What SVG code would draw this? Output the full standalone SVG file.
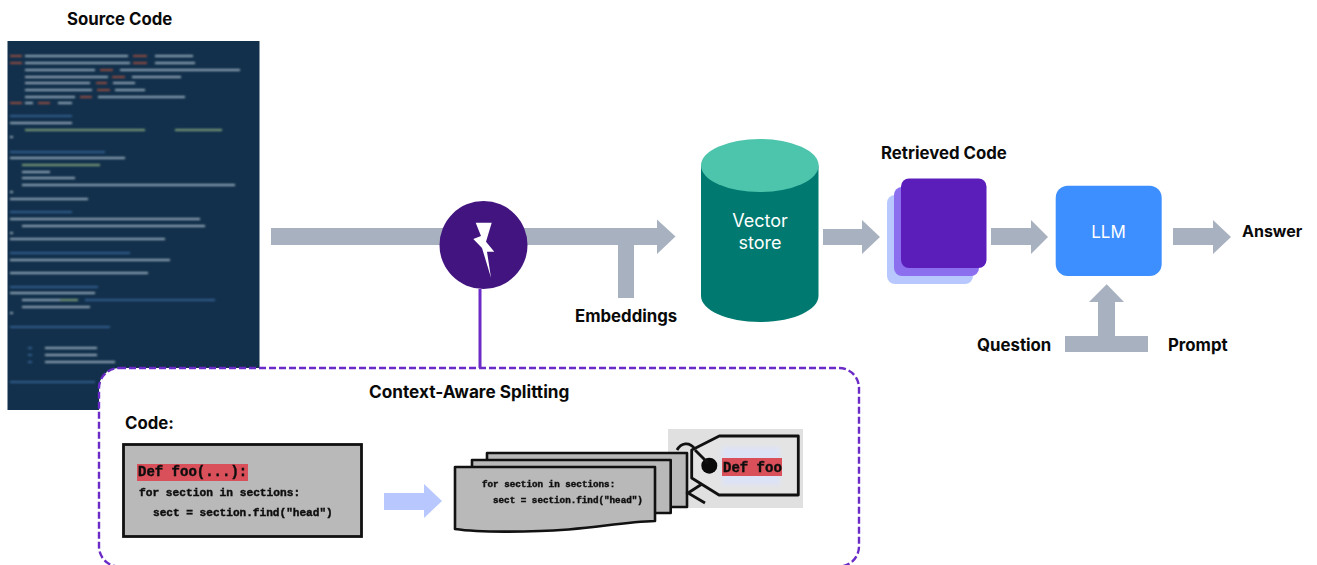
<svg xmlns="http://www.w3.org/2000/svg" width="1317" height="565" viewBox="0 0 1317 565">
<style>
.lb{font-family:Inter,"Liberation Sans",sans-serif;font-weight:700;font-size:16.800px;fill:#0a0a0a}
.wt{font-family:Inter,"Liberation Sans",sans-serif;font-weight:400;fill:#fff;text-anchor:middle}
.mono{font-family:"Liberation Mono",monospace;font-weight:700;fill:#111;stroke:#111;stroke-width:.45}
.arrow{fill:#A8B1BF}
.doc{fill:#B9B9B9;stroke:#111;stroke-width:2.600;stroke-linejoin:round}
.string{fill:none;stroke:#111;stroke-width:2.800}
.bars{fill:none;stroke-width:2.200;opacity:.72}
.cw{stroke:#C9D6E2}
.cr{stroke:#C8563A}
.cb{stroke:#3F6FA8}
.cg{stroke:#A9C98A}
</style>
<defs>
<filter id="blur" x="-5%" y="-5%" width="110%" height="110%"><feGaussianBlur stdDeviation="0.9"/></filter>
<filter id="soft" x="-5%" y="-20%" width="110%" height="140%"><feGaussianBlur stdDeviation="0.45"/></filter>
<filter id="tint" x="-20%" y="-50%" width="140%" height="200%"><feGaussianBlur stdDeviation="2"/></filter>
</defs>

<g id="source-code">
<text class="lb" x="67" y="25">Source Code</text>
<rect x="7.500" y="41" width="252" height="369" fill="#12304B"/>
<g filter="url(#blur)">
<path class="bars cw" d="M25 56H128M155 56H193M25 63H130M155 63H195M25 70H95M120 70H240M25 77H108M132 77H181M25 83H90M113 83H135M25 90H92M115 90H145M25 97H75M98 97H185M25 103H33M58 103H72M10 123H72M10 137H13M10 158H125M22 172H50M22 178H75M22 185H235M10 192H13M10 199H88M10 219H200M22 226H205M10 233H13M10 239H165M10 260H170M10 273H148M10 293H95M22 300H60M22 307H90M10 313H13M45 348H97M45 355H97M45 362H115"/>
<path class="bars cr" d="M10 56H22M133 56H147M10 63H22M133 63H147M100 70H113M112 77H125M96 83H107M97 90H110M80 97H92M10 103H22M38 103H50"/>
<path class="bars cb" d="M10 116H72M10 152H105M10 212H72M10 253H130M85 300H215M10 287H98M10 327H110M28 348H32M28 355H32M28 362H32M10 382H95"/>
<path class="bars cg" d="M25 130H145M175 130H222M22 165H100M60 300H78"/>
</g>
</g>

<g id="connectors">
<path class="arrow" d="M271 228H657V219.500L675.500 236.500L657 254V245H634V298H618V245H271Z"/>
<path class="arrow" d="M823 229H862V220L880 237L862 254V245H823Z"/>
<path class="arrow" d="M991 228H1031V220L1048 237L1031 254V245H991Z"/>
<path class="arrow" d="M1173 228H1213V220L1231 237L1213 254V245H1173Z"/>
<path class="arrow" d="M1106.700 284.300L1124 302H1115V336H1148V352H1065V336H1098V302H1089Z"/>
<path d="M480 289V368" stroke="#6A2BC6" stroke-width="3" fill="none"/>
</g>

<g id="splitter">
<circle cx="483.500" cy="245" r="44" fill="#42147F"/>
<path d="M475.700 222.700H491.700L486 241.700L494.300 251.700H487L491 277.700L482 248L473.300 239L481 236Z" fill="#fff"/>
</g>

<g id="embeddings"><text class="lb" x="575" y="322">Embeddings</text></g>

<g id="vector-store">
<path d="M701 165.500V296C701 310 727 322 760 322S818.500 310 818.500 296V165.500Z" fill="#007A70"/>
<ellipse cx="759.800" cy="165.500" rx="58.800" ry="26.500" fill="#4DC4AC"/>
<text class="wt" x="760" y="227" font-size="18">Vector</text>
<text class="wt" x="760" y="249" font-size="18">store</text>
</g>

<g id="retrieved-code">
<text class="lb" x="881" y="159">Retrieved Code</text>
<rect x="887" y="195" width="86" height="89" rx="8" fill="#B8C8FF"/>
<rect x="894" y="187" width="85" height="89" rx="8" fill="#8C6FEE"/>
<rect x="901" y="178.500" width="85.500" height="89.500" rx="8" fill="#5B1EBB"/>
</g>

<g id="llm">
<rect x="1055.700" y="185.700" width="106" height="90.300" rx="12" fill="#3D8EFF"/>
<text class="wt" x="1108.500" y="238" font-size="17">LLM</text>
</g>

<g id="answer"><text class="lb" x="1242" y="237" style="font-size:16px">Answer</text></g>
<g id="question"><text class="lb" x="977" y="351">Question</text></g>
<g id="prompt"><text class="lb" x="1168" y="351">Prompt</text></g>

<g id="context-aware-splitting">
<rect x="99" y="368" width="760" height="198.500" rx="20" fill="#fff" stroke="#6A2BC6" stroke-width="2.400" stroke-dasharray="7 3"/>
<text class="lb" x="369" y="398" style="font-size:17.200px">Context-Aware Splitting</text>
<text class="lb" x="125" y="429">Code:</text>

<g id="code-block">
<rect x="123.500" y="444.500" width="238" height="92" fill="#B9B9B9" stroke="#111" stroke-width="2.800"/>
<rect x="137" y="464" width="111" height="17" fill="#D9505A"/>
<g filter="url(#soft)">
<text class="mono" x="138" y="476" font-size="14">Def foo(...):</text>
<text class="mono" x="139" y="496" font-size="11.200">for section in sections:</text>
<text class="mono" x="153" y="516" font-size="11.100">sect = section.find("head")</text>
</g>
</g>

<path id="split-arrow" d="M384 493H424V484L442 501L424 518V510H384Z" fill="#B8C8FF"/>

<g id="chunks">
<rect x="668" y="429" width="135" height="79" fill="#E0E0E0"/>
<path class="string" d="M677 450C681 443 689 441 695 449"/>
<path class="doc" d="M487 453H687V507H487Z"/>
<path class="doc" d="M472 460H670.700V513H472Z"/>
<path class="doc" d="M455 467H655V521C620 522 585 530 540 531C510 532 475 532 455 529Z"/>
<path d="M719.300 436H798.300V495H719L691.700 478V450Z" fill="#E4E4E4" stroke="#111" stroke-width="2.800" stroke-linejoin="round"/>
<rect x="722" y="447" width="58" height="38" fill="#DDE3F6" filter="url(#tint)"/>
<path class="string" d="M702 484L688 493L705 503"/>
<circle cx="709.300" cy="465.700" r="8" fill="#0a0a0a"/>
<path class="string" d="M695 450L708 463"/>
<rect x="722" y="458" width="60" height="18" fill="#D9505A"/>
<g filter="url(#soft)">
<text class="mono" x="723" y="472" font-size="14">Def foo</text>
<text class="mono" x="482" y="487" font-size="9.250">for section in sections:</text>
<text class="mono" x="493" y="503" font-size="9.250">sect = section.find("head")</text>
</g>
</g>
</g>
</svg>
